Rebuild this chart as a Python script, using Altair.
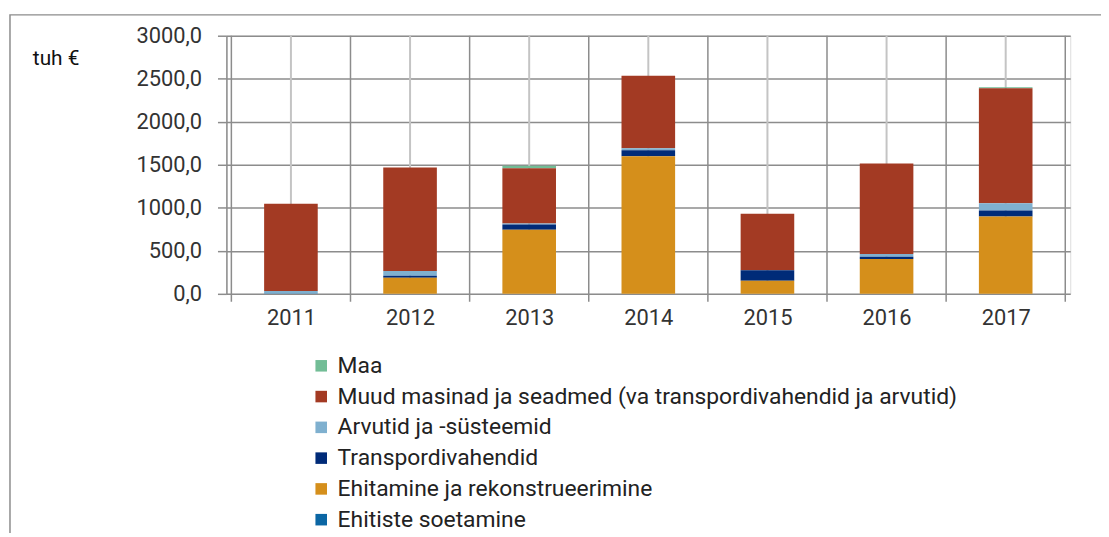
import altair as alt
import pandas as pd

years = [2011, 2012, 2013, 2014, 2015, 2016, 2017]
series = [
    "Maa",
    "Muud masinad ja seadmed (va transpordivahendid ja arvutid)",
    "Arvutid ja -süsteemid",
    "Transpordivahendid",
    "Ehitamine ja rekonstrueerimine",
    "Ehitiste soetamine",
]
colors = ["#72bd96", "#a33a23", "#7fb0cf", "#002b78", "#d58f1b", "#0b66a4"]

maa = [0, 0, 30, 0, 0, 0, 12]
muud = [1015, 1203, 642, 842, 658, 1054, 1335]
arvutid = [28, 55, 12, 23, 0, 31, 84]
transport = [0, 23, 60, 69, 120, 27, 69]
ehitamine = [0, 188, 746, 1600, 153, 404, 900]
ehitiste = [4, 0, 0, 0, 0, 0, 0]

y_ticks = [0, 500, 1000, 1500, 2000, 2500, 3000]

values = [maa, muud, arvutid, transport, ehitamine, ehitiste]
rows = []
for s_i, (name, vals) in enumerate(zip(series, values)):
    for yr, v in zip(years, vals):
        rows.append({"year": yr, "series": name, "value": v, "ord": len(series) - s_i})
df = pd.DataFrame(rows)

bounds = pd.DataFrame({"year": [y - 0.5 for y in years] + [years[-1] + 0.5]})
centers = pd.DataFrame({"year": years})

FONT = "Roboto"
xscale = alt.Scale(domain=[2010.5, 2017.5], nice=False, zero=False)
yscale = alt.Scale(domain=[0, 3000], nice=False)

xaxis = alt.Axis(values=years, format="d", title=None, grid=False, ticks=False,
                 domain=False, labelFontSize=22, labelFont=FONT, labelColor="#333333",
                 labelPadding=14)

center_lines = alt.Chart(centers).mark_rule(color="#c4c4c4", strokeWidth=2).encode(
    x=alt.X("year:Q", scale=xscale, axis=xaxis),
    y=alt.value(0), y2=alt.value(260),
)

bound_lines = alt.Chart(bounds).mark_rule(color="#8c8c8c", strokeWidth=1.5).encode(
    x=alt.X("year:Q", scale=xscale, axis=xaxis),
    y=alt.value(0), y2=alt.value(268),
)

bars = alt.Chart(df).mark_bar(size=54).encode(
    x=alt.X("year:Q", scale=xscale, axis=xaxis),
    y=alt.Y("value:Q", stack="zero", scale=yscale,
            axis=alt.Axis(values=y_ticks, title=None, grid=True, gridColor="#8c8c8c",
                          gridWidth=1.5, tickColor="#8c8c8c", tickSize=9, tickWidth=1.5,
                          domainColor="#8c8c8c", domainWidth=1.5,
                          labelExpr="replace(format(datum.value, '.1f'), '.', ',')",
                          labelFontSize=22, labelFont=FONT, labelColor="#333333",
                          labelPadding=16)),
    color=alt.Color("series:N", scale=alt.Scale(domain=series, range=colors),
                    legend=alt.Legend(title=None, orient="none", legendX=84, legendY=321,
                                      symbolType="square", symbolSize=135, symbolStrokeWidth=0,
                                      labelFontSize=23, labelFont=FONT, labelColor="#222222",
                                      rowPadding=7, labelOffset=5, padding=0, labelLimit=900)),
    order=alt.Order("ord:Q", sort="ascending"),
)

title_df = pd.DataFrame({"t": ["tuh €"]})
title_txt = alt.Chart(title_df).mark_text(align="left", baseline="middle", fontSize=21,
                                          font=FONT, color="#111111").encode(
    text="t:N", x=alt.value(-195), y=alt.value(23),
)

frame = alt.Chart(title_df).mark_rect(fill=None, stroke="#8c8c8c", strokeWidth=1.5).encode(
    x=alt.value(-218), x2=alt.value(900), y=alt.value(-21), y2=alt.value(700),
)

chart = alt.layer(frame, center_lines, bound_lines, bars, title_txt).properties(
    width=850, height=260,
    autosize=alt.AutoSizeParams(type="none"),
    padding={"left": 220, "top": 26, "right": 31, "bottom": 239},
).configure_view(stroke=None).configure(background="white")

chart.save("out.html", embed_options={"renderer": "svg", "actions": False})
